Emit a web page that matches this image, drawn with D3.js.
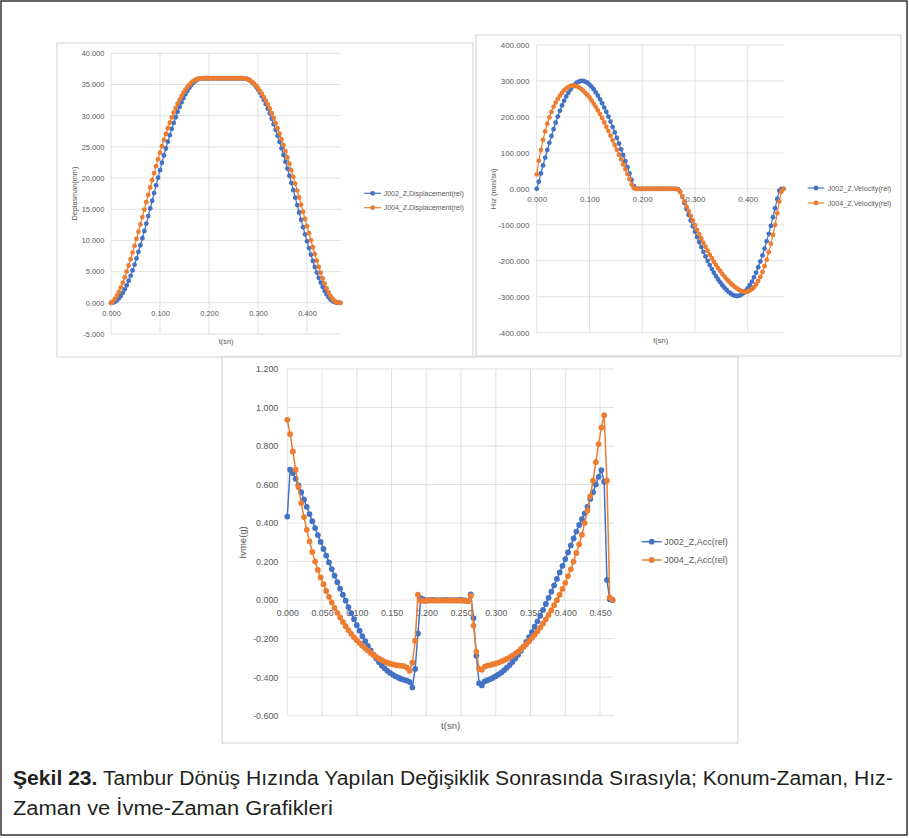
<!DOCTYPE html>
<html>
<head>
<meta charset="utf-8">
<script src="https://cdn.jsdelivr.net/npm/d3@7"></script>
<style>
  body { margin: 0; background: #fff; }
  svg text { font-family: "Liberation Sans", Arial, sans-serif; }
</style>
</head>
<body>
<script>
// zaman (sn) - ornekleme 0.004 sn
const zaman = [
  0.000,0.004,0.008,0.012,0.016,0.020,0.024,0.028,0.032,0.036,
  0.040,0.044,0.048,0.052,0.056,0.060,0.064,0.068,0.072,0.076,
  0.080,0.084,0.088,0.092,0.096,0.100,0.104,0.108,0.112,0.116,
  0.120,0.124,0.128,0.132,0.136,0.140,0.144,0.148,0.152,0.156,
  0.160,0.164,0.168,0.172,0.176,0.180,0.184,0.188,0.192,0.196,
  0.200,0.204,0.208,0.212,0.216,0.220,0.224,0.228,0.232,0.236,
  0.240,0.244,0.248,0.252,0.256,0.260,0.264,0.268,0.272,0.276,
  0.280,0.284,0.288,0.292,0.296,0.300,0.304,0.308,0.312,0.316,
  0.320,0.324,0.328,0.332,0.336,0.340,0.344,0.348,0.352,0.356,
  0.360,0.364,0.368,0.372,0.376,0.380,0.384,0.388,0.392,0.396,
  0.400,0.404,0.408,0.412,0.416,0.420,0.424,0.428,0.432,0.436,
  0.440,0.444,0.448,0.452,0.456,0.460,0.464,0.468
];

// Deplasman (mm)
const deplasmanJ002 = [
  0.00,0.04,0.17,0.39,0.71,1.11,1.60,2.17,2.81,3.54,
  4.33,5.20,6.12,7.11,8.15,9.23,10.35,11.51,12.69,13.90,
  15.13,16.36,17.60,18.84,20.06,21.27,22.46,23.62,24.74,25.83,
  26.88,27.89,28.84,29.75,30.61,31.41,32.15,32.83,33.45,34.01,
  34.49,34.91,35.27,35.55,35.77,35.91,35.97,35.99,36.00,36.00,
  36.00,36.00,36.00,36.00,36.00,36.00,36.00,36.00,36.00,36.00,
  36.00,36.00,36.00,36.00,36.00,36.00,36.00,36.00,35.98,35.92,
  35.80,35.61,35.35,35.03,34.65,34.20,33.70,33.13,32.51,31.84,
  31.11,30.34,29.51,28.64,27.73,26.78,25.79,24.76,23.71,22.62,
  21.51,20.37,19.22,18.05,16.86,15.67,14.48,13.30,12.13,10.98,
  9.86,8.77,7.72,6.71,5.75,4.85,4.01,3.24,2.54,1.91,
  1.37,0.91,0.55,0.28,0.12,0.04,0.01,0.00
];
const deplasmanJ004 = [
  0.00,0.24,0.63,1.14,1.75,2.46,3.24,4.10,5.01,5.98,
  7.00,8.05,9.14,10.26,11.41,12.57,13.75,14.94,16.13,17.31,
  18.49,19.65,20.79,21.91,23.01,24.07,25.11,26.11,27.07,28.00,
  28.88,29.72,30.51,31.25,31.94,32.58,33.17,33.70,34.18,34.60,
  34.97,35.28,35.54,35.73,35.88,35.96,35.99,36.00,36.00,36.00,
  36.00,36.00,36.00,36.00,36.00,36.00,36.00,36.00,36.00,36.00,
  36.00,36.00,36.00,36.00,36.00,36.00,36.00,36.00,35.97,35.91,
  35.80,35.63,35.41,35.13,34.81,34.43,33.99,33.51,32.98,32.40,
  31.77,31.11,30.39,29.64,28.84,28.00,27.13,26.23,25.29,24.32,
  23.33,22.31,21.26,20.19,19.11,18.00,16.88,15.74,14.59,13.44,
  12.29,11.15,10.02,8.91,7.82,6.77,5.76,4.81,3.91,3.08,
  2.33,1.67,1.10,0.65,0.31,0.10,0.01,0.00
];

// Hiz (mm/sn)
const hizJ002 = [
  0,20,43,65,87,108,128,147,166,184,
  201,217,232,245,257,267,276,284,290,295,
  298,300,300,298,295,290,284,277,268,259,
  249,238,226,214,201,187,172,157,142,126,
  110,94,77,60,43,25,8,1,0,0,
  0,0,0,0,0,0,0,0,0,0,
  0,0,0,0,0,0,0,-1,-8,-22,
  -39,-56,-72,-88,-104,-119,-134,-148,-162,-175,
  -188,-200,-212,-223,-233,-243,-252,-260,-268,-275,
  -281,-287,-291,-295,-297,-298,-297,-294,-290,-284,
  -277,-268,-258,-246,-233,-218,-202,-185,-166,-146,
  -125,-103,-79,-54,-28,-5,0,0
];
const hizJ004 = [
  40,78,108,136,160,181,199,214,228,240,
  250,259,267,274,279,283,286,287,287,285,
  282,278,273,267,261,254,246,237,228,218,
  208,197,185,173,161,148,135,122,109,95,
  82,68,55,41,27,12,2,0,0,0,
  0,0,0,0,0,0,0,0,0,0,
  0,0,0,0,0,0,0,-2,-9,-21,
  -35,-49,-62,-75,-88,-101,-114,-126,-138,-150,
  -161,-172,-183,-193,-203,-212,-221,-229,-237,-244,
  -251,-257,-263,-268,-273,-277,-281,-284,-286,-287,
  -286,-283,-279,-273,-266,-256,-245,-231,-215,-197,
  -176,-153,-128,-100,-68,-35,-8,0
];

// Ivme (g)
const ivmeJ002 = [
  0.434,0.677,0.660,0.630,0.596,0.560,0.522,0.484,0.447,0.410,
  0.374,0.338,0.302,0.266,0.231,0.196,0.161,0.127,0.093,0.060,
  0.028,-0.003,-0.036,-0.068,-0.099,-0.130,-0.159,-0.187,-0.213,-0.238,
  -0.261,-0.283,-0.303,-0.322,-0.339,-0.354,-0.367,-0.378,-0.388,-0.396,
  -0.403,-0.409,-0.414,-0.418,-0.425,-0.453,-0.357,-0.173,0.010,0.004,
  -0.002,0.000,0.001,0.000,-0.001,0.000,0.000,0.001,0.000,-0.001,
  0.000,0.000,0.001,0.000,-0.001,-0.005,0.030,-0.093,-0.289,-0.431,
  -0.443,-0.422,-0.416,-0.410,-0.403,-0.395,-0.386,-0.376,-0.364,-0.351,
  -0.337,-0.321,-0.303,-0.284,-0.263,-0.241,-0.217,-0.192,-0.166,-0.138,
  -0.110,-0.081,-0.051,-0.020,0.012,0.044,0.077,0.110,0.144,0.178,
  0.213,0.248,0.284,0.320,0.356,0.390,0.420,0.450,0.485,0.525,
  0.560,0.600,0.640,0.675,0.615,0.105,0.005,0.000
];
const ivmeJ004 = [
  0.936,0.862,0.772,0.677,0.587,0.504,0.431,0.365,0.305,0.250,
  0.200,0.157,0.118,0.083,0.048,0.017,-0.012,-0.040,-0.066,-0.090,
  -0.113,-0.135,-0.156,-0.175,-0.193,-0.208,-0.223,-0.237,-0.250,-0.262,
  -0.274,-0.285,-0.295,-0.304,-0.312,-0.319,-0.325,-0.330,-0.334,-0.337,
  -0.339,-0.341,-0.343,-0.350,-0.367,-0.325,-0.211,0.028,-0.003,-0.004,
  -0.003,-0.002,-0.002,-0.002,-0.002,-0.002,-0.002,-0.002,-0.002,-0.002,
  -0.002,-0.002,-0.002,-0.003,-0.004,-0.005,0.022,-0.132,-0.267,-0.357,
  -0.362,-0.345,-0.340,-0.337,-0.333,-0.329,-0.324,-0.318,-0.312,-0.305,
  -0.297,-0.288,-0.278,-0.267,-0.255,-0.242,-0.228,-0.213,-0.197,-0.180,
  -0.162,-0.143,-0.122,-0.100,-0.077,-0.052,-0.026,0.000,0.028,0.058,
  0.090,0.125,0.160,0.200,0.245,0.290,0.340,0.400,0.465,0.540,
  0.620,0.716,0.810,0.896,0.960,0.620,0.014,0.002
];

// Eksen isaretleri
const deplasmanTicksY = [-5, 0, 5, 10, 15, 20, 25, 30, 35, 40];
const deplasmanTicksX = [0, 0.1, 0.2, 0.3, 0.4];
const hizTicksY = [-400, -300, -200, -100, 0, 100, 200, 300, 400];
const hizTicksX = [0, 0.1, 0.2, 0.3, 0.4];
const ivmeTicksY = [-0.6, -0.4, -0.2, 0, 0.2, 0.4, 0.6, 0.8, 1.0, 1.2];
const ivmeTicksX = [0, 0.05, 0.1, 0.15, 0.2, 0.25, 0.3, 0.35, 0.4, 0.45];

const xMax = 0.47;
const mavi = "#4472C4", turuncu = "#ED7D31";
const gri = "#595959", izgara = "#d9d9d9";

// Excel gibi "-" eksi isareti
const fmt = d3.formatLocale({decimal: ".", thousands: ",", grouping: [3], currency: ["", ""], minus: "-"}).format(".3f");

const svg = d3.select("body").append("svg")
  .attr("width", 909)
  .attr("height", 838);

svg.append("rect").attr("width", 909).attr("height", 838).attr("fill", "#fff");

function grafik(c) {
  const g = svg.append("g");

  // panel cercevesi
  g.append("rect")
    .attr("x", c.panel[0]).attr("y", c.panel[1])
    .attr("width", c.panel[2]).attr("height", c.panel[3])
    .attr("fill", "#fff").attr("stroke", "#d0d0d0").attr("stroke-width", 1);

  const x = d3.scaleLinear().domain([0, xMax]).range([c.left, c.left + c.w]);
  const y = d3.scaleLinear()
    .domain([c.yTicks[0], c.yTicks[c.yTicks.length - 1]])
    .range([c.top + c.h, c.top]);

  // izgara cizgileri
  g.selectAll(".gy").data(c.yTicks).enter().append("line")
    .attr("x1", c.left).attr("x2", c.left + c.w)
    .attr("y1", d => y(d)).attr("y2", d => y(d))
    .attr("stroke", izgara).attr("stroke-width", 0.8);
  g.selectAll(".gx").data(c.xTicks).enter().append("line")
    .attr("x1", d => x(d)).attr("x2", d => x(d))
    .attr("y1", c.top).attr("y2", c.top + c.h)
    .attr("stroke", izgara).attr("stroke-width", 0.8);

  // Y ekseni
  const ay = g.append("g")
    .attr("transform", `translate(${c.left},0)`)
    .call(d3.axisLeft(y).tickValues(c.yTicks).tickSize(0).tickPadding(c.padY).tickFormat(fmt));
  ay.select(".domain").remove();
  ay.selectAll("text").attr("fill", gri).style("font-size", c.tickFont + "px");

  // X ekseni (sifir cizgisi uzerinde)
  const ax = g.append("g")
    .attr("transform", `translate(0,${y(0)})`)
    .call(d3.axisBottom(x).tickValues(c.xTicks).tickSize(0).tickPadding(c.padX).tickFormat(fmt));
  ax.select(".domain").remove();
  ax.selectAll("text").attr("fill", gri).style("font-size", c.tickFont + "px");

  // eksen basliklari
  g.append("text")
    .attr("transform", `translate(${c.yTitlePos[0]},${c.top + c.h / 2}) rotate(-90)`)
    .attr("text-anchor", "middle").attr("dominant-baseline", "central")
    .attr("fill", gri).style("font-size", c.titleFont + "px")
    .text(c.yTitle);
  g.append("text")
    .attr("x", c.left + c.w / 2).attr("y", c.xTitleY)
    .attr("text-anchor", "middle").attr("dominant-baseline", "central")
    .attr("fill", gri).style("font-size", c.titleFont + "px")
    .text("t(sn)");

  // seriler
  c.series.forEach(s => {
    const veri = zaman.map((t, i) => [t, s.values[i]]);
    g.append("path")
      .datum(veri)
      .attr("fill", "none").attr("stroke", s.color).attr("stroke-width", c.lineW)
      .attr("d", d3.line().x(d => x(d[0])).y(d => y(d[1])));
    g.selectAll(null).data(veri).enter().append("circle")
      .attr("cx", d => x(d[0])).attr("cy", d => y(d[1]))
      .attr("r", c.r).attr("fill", s.color);
  });

  // lejant
  c.series.forEach((s, i) => {
    const ly = c.legend.y[i];
    g.append("line")
      .attr("x1", c.legend.x1).attr("x2", c.legend.x2)
      .attr("y1", ly).attr("y2", ly)
      .attr("stroke", s.color).attr("stroke-width", c.lineW);
    g.append("circle")
      .attr("cx", (c.legend.x1 + c.legend.x2) / 2).attr("cy", ly)
      .attr("r", c.r).attr("fill", s.color);
    g.append("text")
      .attr("x", c.legend.tx).attr("y", ly)
      .attr("dominant-baseline", "central")
      .attr("fill", gri).style("font-size", c.legendFont + "px")
      .text(s.name);
  });
}

// Konum - Zaman
grafik({
  panel: [57, 43, 416, 314],
  left: 111, top: 53.3, w: 230.3, h: 280.7,
  yTicks: deplasmanTicksY, xTicks: deplasmanTicksX,
  padY: 6.7, padX: 7.9, tickFont: 7.4, titleFont: 7.3, legendFont: 7,
  yTitle: "Deplasman(mm)", yTitlePos: [74.3], xTitleY: 341.7,
  lineW: 1.2, r: 2.4,
  legend: {x1: 364.3, x2: 381, tx: 383.7, y: [193.3, 207.7]},
  series: [
    {name: "J002_Z,Displacement(rel)", values: deplasmanJ002, color: mavi},
    {name: "J004_Z,Displacement(rel)", values: deplasmanJ004, color: turuncu}
  ]
});

// Hiz - Zaman
grafik({
  panel: [476, 35, 425, 321],
  left: 536.7, top: 45, w: 247.9, h: 287.7,
  yTicks: hizTicksY, xTicks: hizTicksX,
  padY: 7.4, padX: 7.8, tickFont: 7.9, titleFont: 7.5, legendFont: 7.2,
  yTitle: "Hız (mm/sn)", yTitlePos: [493.3], xTitleY: 340.7,
  lineW: 1.2, r: 2.4,
  legend: {x1: 807.7, x2: 824.3, tx: 827.7, y: [188, 203]},
  series: [
    {name: "J002_Z,Velocity(rel)", values: hizJ002, color: mavi},
    {name: "J004_Z,Velocity(rel)", values: hizJ004, color: turuncu}
  ]
});

// Ivme - Zaman
grafik({
  panel: [222, 357, 516, 386],
  left: 287.3, top: 369, w: 326.6, h: 346.7,
  yTicks: ivmeTicksY, xTicks: ivmeTicksX,
  padY: 9, padX: 9.3, tickFont: 8.9, titleFont: 9.5, legendFont: 9,
  yTitle: "İvme(g)", yTitlePos: [242.7], xTitleY: 725,
  lineW: 1.5, r: 2.9,
  legend: {x1: 641.7, x2: 661.7, tx: 664.3, y: [541.7, 560]},
  series: [
    {name: "J002_Z,Acc(rel)", values: ivmeJ002, color: mavi},
    {name: "J004_Z,Acc(rel)", values: ivmeJ004, color: turuncu}
  ]
});

// dis cerceve
svg.append("rect")
  .attr("x", 1).attr("y", 1).attr("width", 906).attr("height", 834)
  .attr("fill", "none").attr("stroke", "#333").attr("stroke-width", 1.5);

// sekil aciklamasi (dar yazi tipi: yatayda sikistirilir)
const satirlar = [
  {bold: "Şekil 23.", rest: " Tambur Dönüş Hızında Yapılan Değişiklik Sonrasında Sırasıyla; Konum-Zaman, Hız-", y: 785, w: 880},
  {bold: "", rest: "Zaman ve İvme-Zaman Grafikleri", y: 815, w: 320}
];
satirlar.forEach(s => {
  const t = svg.append("text")
    .attr("fill", "#231f20")
    .style("font-family", "'Liberation Sans', Arial, sans-serif")
    .style("font-size", "21px");
  if (s.bold) t.append("tspan").attr("font-weight", "bold").text(s.bold);
  t.append("tspan").text(s.rest);
  const gen = t.node().getComputedTextLength();
  t.attr("transform", `translate(13,${s.y}) scale(${s.w / gen},1)`);
});
</script>
</body>
</html>
